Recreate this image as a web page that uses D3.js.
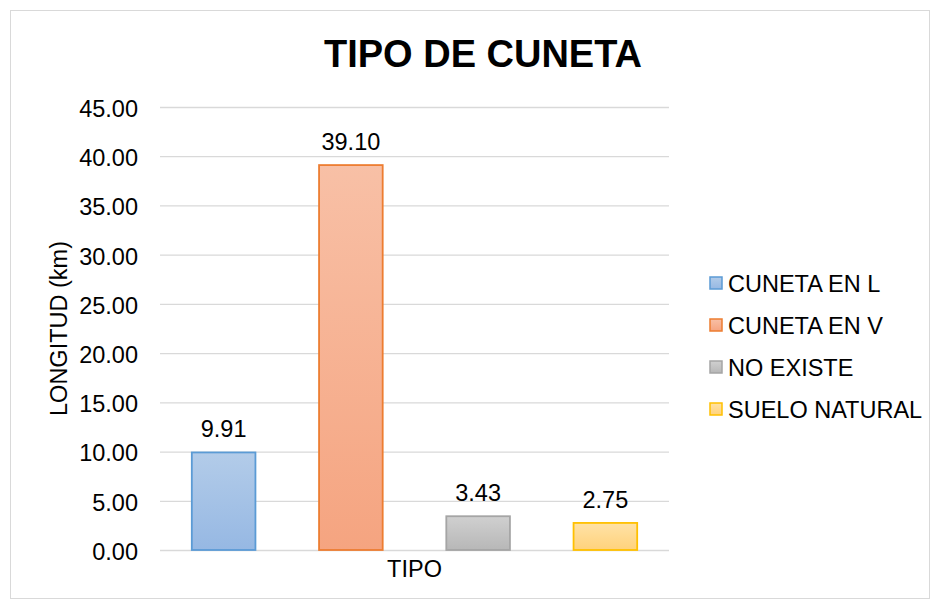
<!DOCTYPE html>
<html>
<head>
<meta charset="utf-8">
<script src="https://cdn.jsdelivr.net/npm/d3@7"></script>
<style>
  body { margin: 0; background: #fff; }
  text { font-family: "Liberation Sans", Arial, sans-serif; fill: #000; }
</style>
</head>
<body>
<svg width="940" height="609"></svg>
<script>
// datos
let categorias = ["CUNETA EN L", "CUNETA EN V", "NO EXISTE", "SUELO NATURAL"];
let longitudes = [9.91, 39.10, 3.43, 2.75];
let ticksY = [0, 5, 10, 15, 20, 25, 30, 35, 40, 45];
let colTop = ["#b3cce9", "#f8c0a6", "#d0d0d0", "#ffe2a6"];
let colBottom = ["#96b8e3", "#f5a480", "#b7b7b7", "#ffd27c"];
let colBorde = ["#5b9bd5", "#ed7d31", "#a5a5a5", "#ffc000"];

var svg = d3.select("svg");
var fs = 23.5;

// marco exterior
svg.append("rect")
  .attr("x", 10.5).attr("y", 10.5)
  .attr("width", 919).attr("height", 588)
  .attr("fill", "#fff").attr("stroke", "#d9d9d9");

var pLeft = 160, pRight = 669, pTop = 107, pBottom = 550;

var x = d3.scaleBand().domain(categorias).range([pLeft, pRight]).paddingInner(0.5).paddingOuter(0.25);
var y = d3.scaleLinear().domain([0, 45]).range([pBottom, pTop]);

var defs = svg.append("defs");
categorias.forEach(function(c, i) {
  var g = defs.append("linearGradient").attr("id", "grad" + i)
    .attr("x1", 0).attr("y1", 0).attr("x2", 0).attr("y2", 1);
  g.append("stop").attr("offset", "0%").attr("stop-color", colTop[i]);
  g.append("stop").attr("offset", "100%").attr("stop-color", colBottom[i]);
});

// lineas de la grilla
svg.append("g")
  .attr("transform", "translate(" + pLeft + ",0)")
  .call(d3.axisLeft(y).tickValues(ticksY).tickSize(-(pRight - pLeft)).tickFormat(d3.format(".2f")))
  .call(function(g) {
    g.select(".domain").remove();
    g.selectAll(".tick line").attr("stroke", "#d9d9d9").attr("stroke-width", 1.3);
    g.selectAll(".tick text").attr("x", -22).attr("dy", "0.4em").attr("font-size", fs)
      .attr("font-family", "Liberation Sans, Arial, sans-serif").attr("fill", "#000");
  });

// barras
svg.selectAll("rect.bar")
  .data(longitudes)
  .enter()
  .append("rect")
  .attr("class", "bar")
  .attr("x", function(d, i) { return x(categorias[i]); })
  .attr("y", function(d) { return y(d); })
  .attr("width", x.bandwidth())
  .attr("height", function(d) { return pBottom - y(d); })
  .attr("fill", function(d, i) { return "url(#grad" + i + ")"; })
  .attr("stroke", function(d, i) { return colBorde[i]; })
  .attr("stroke-width", 1.8);

// etiquetas de datos
svg.selectAll("text.lbl")
  .data(longitudes)
  .enter()
  .append("text")
  .attr("class", "lbl")
  .attr("x", function(d, i) { return x(categorias[i]) + x.bandwidth() / 2; })
  .attr("y", function(d) { return y(d) - 15; })
  .attr("text-anchor", "middle")
  .attr("font-size", fs)
  .text(function(d) { return d.toFixed(2); });

// titulo
svg.append("text")
  .attr("x", 483).attr("y", 67)
  .attr("text-anchor", "middle")
  .attr("font-size", 38).attr("font-weight", "bold")
  .text("TIPO DE CUNETA");

// titulo eje x
svg.append("text")
  .attr("x", (pLeft + pRight) / 2).attr("y", 577)
  .attr("text-anchor", "middle")
  .attr("font-size", fs)
  .text("TIPO");

// titulo eje y
svg.append("text")
  .attr("transform", "translate(66.5," + ((pTop + pBottom) / 2) + ") rotate(-90)")
  .attr("text-anchor", "middle")
  .attr("font-size", fs)
  .text("LONGITUD (km)");

// leyenda
var leg = svg.selectAll("g.leg")
  .data(categorias)
  .enter()
  .append("g")
  .attr("class", "leg")
  .attr("transform", function(d, i) { return "translate(710," + (283 + i * 42) + ")"; });

leg.append("rect")
  .attr("x", 0).attr("y", -6)
  .attr("width", 12).attr("height", 12)
  .attr("fill", function(d, i) { return "url(#grad" + i + ")"; })
  .attr("stroke", function(d, i) { return colBorde[i]; })
  .attr("stroke-width", 1.5);

leg.append("text")
  .attr("x", 18).attr("y", 8.7)
  .attr("font-size", fs)
  .text(function(d) { return d; });
</script>
</body>
</html>
